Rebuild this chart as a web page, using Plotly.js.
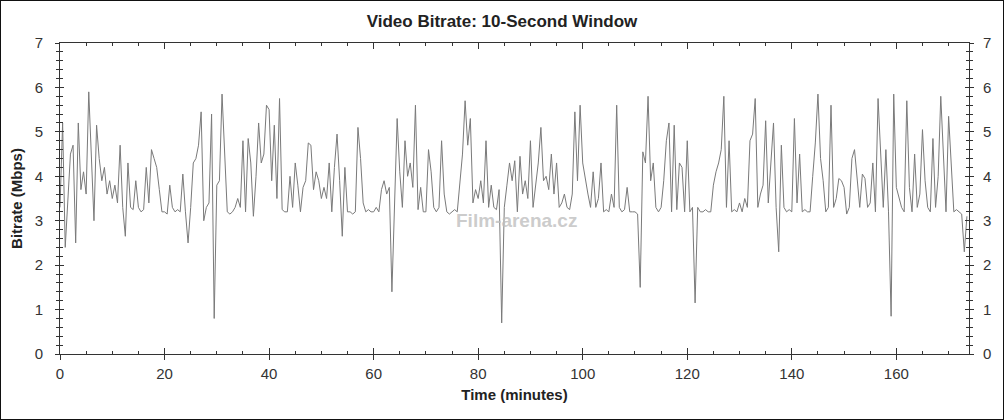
<!DOCTYPE html>
<html>
<head>
<meta charset="utf-8">
<script src="https://cdn.plot.ly/plotly-3.0.1.min.js"></script>
<style>
  html, body { margin: 0; padding: 0; background: #fff; }
  #wrap { width: 1002px; height: 418px; border: 1px solid #111; }
  #chart { width: 1002px; height: 418px; }
</style>
</head>
<body>
<div id="wrap"><div id="chart"></div></div>
<script>
// Sampling step of the series (minutes)
const stepMinutes = 0.5;

// Video bitrate (Mbps), 10-second window, read every 0.5 minute
const bitrate0to10   = [3.3, 5.2, 2.4, 3.6, 4.5, 4.7, 2.5, 5.2, 3.7, 4.1, 3.6, 5.9, 4.6, 3.0, 5.15, 4.4, 3.9, 4.2, 3.6, 3.9];
const bitrate10to20  = [3.5, 3.8, 3.4, 4.7, 3.3, 2.65, 4.3, 3.3, 3.25, 3.9, 3.3, 3.2, 3.25, 4.2, 3.4, 4.6, 4.4, 4.2, 3.7, 3.2];
const bitrate20to30  = [3.2, 3.15, 3.8, 3.3, 3.2, 3.25, 3.2, 4.05, 3.2, 2.5, 3.3, 4.3, 4.4, 4.7, 5.45, 3.0, 3.3, 3.4, 5.4, 0.8];
const bitrate30to40  = [3.8, 3.9, 5.85, 4.4, 3.2, 3.15, 3.2, 3.3, 3.5, 3.3, 4.8, 3.2, 4.85, 4.3, 3.1, 4.0, 5.2, 4.3, 4.5, 5.6];
const bitrate40to50  = [5.5, 3.9, 5.15, 3.5, 5.75, 3.25, 3.2, 3.2, 4.0, 3.3, 4.3, 3.8, 3.2, 3.75, 3.9, 4.75, 4.7, 3.7, 4.1, 3.9];
const bitrate50to60  = [3.5, 3.75, 3.5, 4.3, 3.2, 4.2, 4.95, 3.9, 2.65, 4.2, 3.2, 3.2, 3.15, 3.2, 5.1, 4.4, 3.4, 3.2, 3.25, 3.2];
const bitrate60to70  = [3.2, 3.3, 3.2, 3.7, 3.9, 3.6, 3.75, 1.4, 3.5, 5.3, 4.1, 3.3, 4.8, 4.0, 4.3, 3.75, 5.6, 3.25, 3.75, 3.2];
const bitrate70to80  = [3.2, 4.6, 4.1, 3.3, 3.2, 3.3, 4.8, 3.6, 3.2, 3.15, 3.2, 3.25, 3.2, 3.9, 4.5, 5.7, 4.7, 5.3, 3.4, 3.7];
const bitrate80to90  = [3.5, 3.9, 3.4, 4.8, 3.3, 3.8, 3.3, 3.25, 3.7, 0.7, 3.3, 3.8, 4.3, 3.9, 4.35, 3.2, 4.45, 3.6, 3.9, 3.5];
const bitrate90to100 = [4.8, 3.3, 3.8, 4.3, 5.1, 3.9, 4.0, 3.7, 4.5, 3.6, 4.3, 3.3, 3.4, 3.6, 3.3, 3.25, 3.6, 5.45, 3.9, 5.6];
const bitrate100to110 = [4.3, 3.9, 3.6, 3.3, 4.1, 3.3, 3.5, 4.3, 3.2, 3.25, 3.2, 3.6, 3.3, 5.6, 3.3, 3.2, 3.25, 3.75, 3.2, 3.2];
const bitrate110to120 = [3.2, 3.15, 1.5, 4.55, 4.3, 5.8, 3.9, 4.3, 3.3, 3.2, 3.3, 3.9, 4.8, 5.2, 3.2, 5.15, 3.25, 4.3, 4.2, 3.2];
const bitrate120to130 = [4.8, 3.2, 3.3, 1.15, 3.3, 3.2, 3.2, 3.25, 3.2, 3.2, 3.8, 4.1, 4.3, 4.6, 5.8, 3.3, 4.8, 3.2, 3.25, 3.2];
const bitrate130to140 = [3.4, 3.2, 3.5, 3.3, 4.8, 4.95, 5.75, 3.3, 3.6, 3.8, 5.25, 3.4, 4.3, 5.2, 3.3, 2.3, 4.7, 3.3, 3.2, 3.25];
const bitrate140to150 = [3.2, 5.3, 3.4, 4.5, 3.2, 3.25, 3.2, 3.2, 4.0, 4.75, 5.85, 4.4, 3.9, 3.2, 3.3, 5.6, 3.3, 3.5, 3.95, 3.9];
const bitrate150to160 = [3.75, 3.15, 3.3, 4.4, 4.6, 3.9, 3.3, 4.05, 3.95, 3.3, 3.4, 4.3, 3.2, 5.75, 4.5, 3.3, 4.6, 3.2, 0.85, 5.85];
const bitrate160to170 = [3.75, 3.5, 3.3, 3.2, 5.7, 3.75, 3.2, 4.5, 3.3, 3.6, 5.05, 3.9, 3.3, 3.2, 4.85, 3.3, 4.0, 5.8, 4.3, 3.2];
const bitrate170toEnd = [5.35, 4.3, 3.2, 3.25, 3.2, 3.15, 2.3, 3.1];

// Axis ticks
const xTickValues = [0, 20, 40, 60, 80, 100, 120, 140, 160];
const yTickValues = [0, 1, 2, 3, 4, 5, 6, 7];
const xRange = [0, 173.9];
const yRange = [0, 7];

const bitrate = [].concat(
  bitrate0to10, bitrate10to20, bitrate20to30, bitrate30to40, bitrate40to50,
  bitrate50to60, bitrate60to70, bitrate70to80, bitrate80to90, bitrate90to100,
  bitrate100to110, bitrate110to120, bitrate120to130, bitrate130to140,
  bitrate140to150, bitrate150to160, bitrate160to170, bitrate170toEnd
);
const minutes = bitrate.map((_, i) => i * stepMinutes);

const FONT = 'Liberation Sans, Arial, sans-serif';
const axisColor = '#333333';
const tickFont = { family: FONT, size: 15, color: '#333333' };
const titleFont = { family: FONT, size: 15, weight: 700, color: '#222222' };

const traces = [
  {
    x: minutes, y: bitrate, type: 'scatter', mode: 'lines',
    line: { color: '#7a7a7a', width: 1 }, hoverinfo: 'skip', showlegend: false,
    xaxis: 'x', yaxis: 'y'
  },
  { x: [], y: [], type: 'scatter', mode: 'lines', xaxis: 'x2', yaxis: 'y2', showlegend: false },
  { x: [], y: [], type: 'scatter', mode: 'lines', xaxis: 'x', yaxis: 'y3', showlegend: false }
];

const layout = {
  width: 1002, height: 418,
  margin: { l: 59, r: 34, t: 42, b: 65, pad: 0 },
  paper_bgcolor: '#ffffff', plot_bgcolor: '#ffffff',
  showlegend: false,
  title: {
    text: 'Video Bitrate: 10-Second Window',
    font: { family: FONT, size: 17, weight: 700, color: '#222222' },
    x: 0.5, xref: 'container', xanchor: 'center',
    y: 0.952, yref: 'container', yanchor: 'middle'
  },
  xaxis: {
    range: xRange, tickvals: xTickValues, ticktext: xTickValues.map(String),
    ticks: 'outside', ticklen: 5, tickcolor: axisColor, tickwidth: 1,
    showline: true, linecolor: axisColor, linewidth: 1,
    showgrid: false, zeroline: false, tickfont: tickFont, ticklabelstandoff: 1,
    title: { text: 'Time (minutes)', font: titleFont, standoff: 8 }
  },
  xaxis2: {
    overlaying: 'x', anchor: 'y', side: 'bottom', range: xRange,
    tickvals: xTickValues, showticklabels: false,
    ticks: 'inside', ticklen: 6, tickcolor: axisColor,
    minor: { dtick: 5, tick0: 0, ticks: 'inside', ticklen: 3, tickcolor: axisColor, showgrid: false },
    showline: true, linecolor: axisColor, mirror: 'ticks',
    showgrid: false, zeroline: false
  },
  yaxis: {
    range: yRange, tickvals: yTickValues, ticktext: yTickValues.map(String),
    ticks: 'outside', ticklen: 4, tickcolor: axisColor,
    minor: { dtick: 0.2, tick0: 0, ticks: 'outside', ticklen: 3, tickcolor: axisColor, showgrid: false },
    showline: true, linecolor: axisColor, linewidth: 1,
    showgrid: false, zeroline: false, tickfont: tickFont, ticklabelstandoff: 9,
    title: { text: 'Bitrate (Mbps)', font: titleFont, standoff: 8 }
  },
  yaxis2: {
    overlaying: 'y', anchor: 'x2', side: 'right', range: yRange,
    tickvals: yTickValues, ticktext: yTickValues.map(String),
    ticks: 'outside', ticklen: 4, tickcolor: axisColor,
    minor: { dtick: 0.2, tick0: 0, ticks: 'outside', ticklen: 3, tickcolor: axisColor, showgrid: false },
    showline: true, linecolor: axisColor,
    showgrid: false, zeroline: false, tickfont: tickFont, ticklabelstandoff: 6
  },
  yaxis3: {
    overlaying: 'y', anchor: 'x', side: 'left', range: yRange,
    tickvals: yTickValues, showticklabels: false,
    ticks: 'inside', ticklen: 4, tickcolor: axisColor,
    minor: { dtick: 0.2, tick0: 0, ticks: 'inside', ticklen: 3, tickcolor: axisColor, showgrid: false },
    mirror: 'ticks', showline: false, showgrid: false, zeroline: false
  },
  annotations: [
    {
      text: 'Film-arena.cz', xref: 'paper', yref: 'paper',
      x: 0.502, y: 0.43, xanchor: 'center', yanchor: 'middle', showarrow: false,
      font: { family: FONT, size: 19, weight: 700, color: 'rgba(190,190,190,0.8)' }
    }
  ]
};

Plotly.newPlot('chart', traces, layout, { staticPlot: true, displayModeBar: false });
</script>
</body>
</html>
